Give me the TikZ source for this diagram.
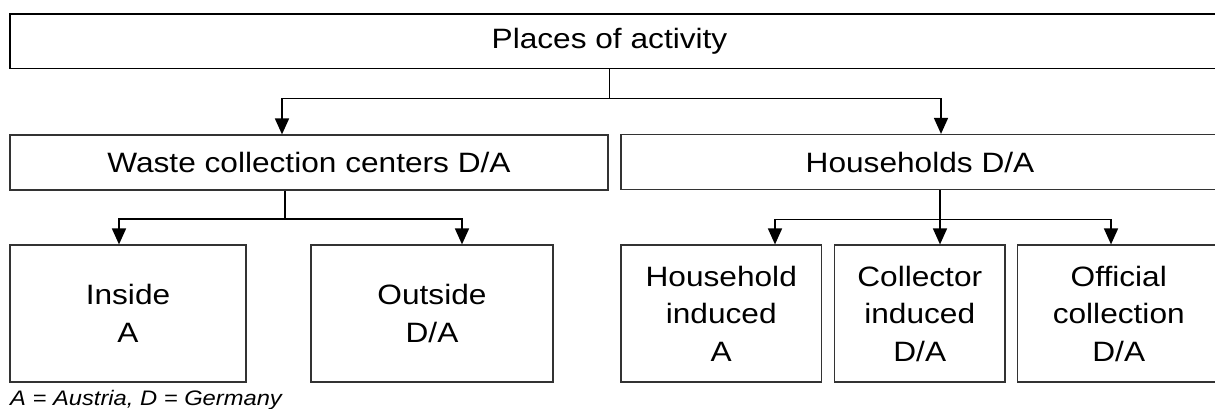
\documentclass[tikz,border=0pt]{standalone}
\usepackage{fontspec}
\setmainfont{Liberation Sans}[FakeStretch=1.13]
\usetikzlibrary{arrows.meta}

\tikzset{
  box/.style={draw=black!80, line width=1.2pt, rectangle, inner sep=0pt,
    align=center, font=\fontsize{28}{37.5}\selectfont},
  lbl/.style={font=\fontsize{28}{37.5}\selectfont, inner sep=0pt},
  link/.style={draw=black, line width=1.7pt},
  arr/.style={link, -{Triangle[length=16pt,width=14pt]}},
  note/.style={font=\fontsize{21}{25}\selectfont\itshape, inner sep=0pt, anchor=base west}
}

\begin{document}
\begin{tikzpicture}[x=1pt, y=-1pt]
  \useasboundingbox (0,0) rectangle (1215,409);
  \clip (0,0) rectangle (1215,409);

  % top level
  \node[box, draw=black, minimum width=1215pt, minimum height=54.5pt,
        label={[lbl, xshift=-8pt]center:Places of activity}] (top) at (617.5,41.25) {};

  % second level
  \node[box, minimum width=598pt, minimum height=55pt] (wcc) at (309,162.5) {Waste collection centers D/A};
  \node[box, minimum width=604pt, minimum height=55pt,
        label={[lbl, xshift=-3pt]center:Households D/A}] (hh) at (923,162) {};

  % third level
  \node[box, minimum width=236pt, minimum height=137pt] (in) at (128,313.5) {Inside\\A};
  \node[box, minimum width=242pt, minimum height=137pt] (out) at (432,313.5) {Outside\\D/A};
  \node[box, minimum width=200.5pt, minimum height=137pt] (hi) at (721.25,313.5) {Household\\induced\\A};
  \node[box, minimum width=170.5pt, minimum height=137pt] (ci) at (919.75,313.5) {Collector\\induced\\D/A};
  \node[box, minimum width=202.5pt, minimum height=137pt] (oc) at (1118.75,313.5) {Official\\collection\\D/A};

  % connectors from the top box
  \draw[link] ([xshift=-8pt]top.south) -- ++(0,29.5) coordinate (topj);
  \draw[arr] (topj) -| ([xshift=-27pt]wcc.north);
  \draw[arr] (topj) -| ([xshift=18pt]hh.north);

  % connectors from the collection centres
  \draw[link] ([xshift=-24pt]wcc.south) -- ++(0,28.5) coordinate (wccj);
  \draw[arr] (wccj) -| ([xshift=-9pt]in.north);
  \draw[arr] (wccj) -| ([xshift=30pt]out.north);

  % connectors from the households
  \draw[link] ([xshift=17pt]hh.south) -- ++(0,29.5) coordinate (hhj);
  \draw[arr] (hhj) -| ([xshift=53.75pt]hi.north);
  \draw[arr] (hhj) -| ([xshift=20.25pt]ci.north);
  \draw[arr] (hhj) -| ([xshift=-7.75pt]oc.north);

  % legend
  \node[note] (legend) at (10,405) {A = Austria, D = Germany};
\end{tikzpicture}
\end{document}
